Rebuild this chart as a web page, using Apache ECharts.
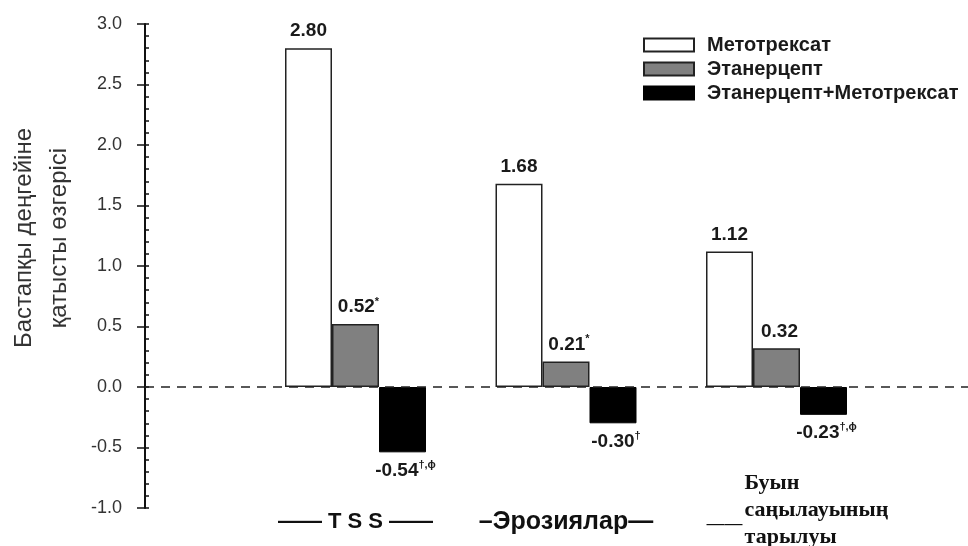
<!DOCTYPE html>
<html>
<head>
<meta charset="utf-8">
<script src="https://cdn.jsdelivr.net/npm/echarts@6/dist/echarts.min.js"></script>
<style>html,body{margin:0;padding:0;background:#fff;}#c{width:968px;height:546px;}</style>
</head>
<body>
<div id="c"></div>
<script>
const categories = ['', 'TSS', 'Эрозиялар', 'Буын саңылауының тарылуы', ''];
const methotrexate = [null, 2.80, 1.68, 1.12, null];
const etanercept = [null, 0.52, 0.21, 0.32, null];
const combination = [null, -0.54, -0.30, -0.23, null];
const etanerceptMarks = ['', '*', '*', '', ''];
const combinationMarks = ['', '†,ϕ', '†', '†,ϕ', ''];
const seriesNames = ['Метотрексат', 'Этанерцепт', 'Этанерцепт+Метотрексат'];

const SANS = "'Liberation Sans', Arial, sans-serif";
const SERIF = "'Liberation Serif', 'Times New Roman', serif";
const SERIF_FONT = "bold 22px 'Liberation Serif', 'Times New Roman', serif";

const measureCtx = document.createElement('canvas').getContext('2d');
measureCtx.font = SERIF_FONT;
function textW(s) { return measureCtx.measureText(s).width; }

const chart = echarts.init(document.getElementById('c'), null, {renderer: 'canvas'});

const valueRich = {
  v: {fontFamily: SANS, fontSize: 19, fontWeight: 'bold', color: '#1a1a1a', lineHeight: 22},
  s: {fontFamily: SANS, fontSize: 11, fontWeight: 'bold', color: '#1a1a1a', verticalAlign: 'top', lineHeight: 13}
};

function labelFmt(marks) {
  return function (p) {
    if (p.value == null) return '';
    const m = marks ? marks[p.dataIndex] : '';
    return '{v|' + p.value.toFixed(2) + '}' + (m ? '{s|' + m + '}' : '');
  };
}

// multi-line third category label, lines kept left-aligned by padding tokens
const words3 = categories[3].split(' ');
const wW = words3.map(textW);
const wMax = Math.max.apply(null, wW);
const DASH_W = 40, LEAD = 40;
const rich3 = {
  t: {fontFamily: SERIF, fontSize: 22, fontWeight: 'bold', color: '#111', lineHeight: 27},
  lead: {width: LEAD, fontSize: 10},
  lead2: {width: LEAD + DASH_W, fontSize: 10},
  d: {fontFamily: SANS, fontSize: 18, color: '#111', verticalAlign: 'top', lineHeight: 1, height: 1, width: DASH_W}
};
wW.forEach(function (w, k) { rich3['p' + k] = {width: Math.max(0.01, wMax - w), fontSize: 10}; });

const option = {
  backgroundColor: '#fff',
  animation: false,
  grid: {left: 145, right: -19, top: 24, bottom: 38, containLabel: false, outerBoundsMode: 'none'},
  legend: {
    orient: 'vertical', left: 643, top: 35, padding: 0,
    itemWidth: 50, itemHeight: 13, itemGap: 4,
    icon: 'rect',
    data: seriesNames,
    textStyle: {fontFamily: SANS, fontSize: 20, fontWeight: 'bold', color: '#1a1a1a', lineHeight: 20, padding: [0, 0, 0, 8]}
  },
  xAxis: {
    type: 'category',
    data: categories,
    boundaryGap: false,
    axisLine: {show: false},
    axisTick: {show: false},
    splitLine: {show: false},
    axisLabel: {
      interval: 0,
      verticalAlign: 'middle',
      margin: 2,
      formatter: function (v, i) {
        if (i === 1) return '{e| }\n{b|—— T S S ——}';
        if (i === 2) return '{e| }\n{c|–Эрозиялар—}';
        if (i === 3) {
          const w = v.split(' ');
          return '{lead2| }{t|' + w[0] + '}{p0| }\n' +
                 '{lead2| }{t|' + w[1] + '}{p1| }\n' +
                 '{lead| }{d|——}{t|' + w[2] + '}{p2| }';
        }
        return '';
      },
      rich: Object.assign({
        e: {height: 24, lineHeight: 24, fontSize: 10},
        b: {fontFamily: SANS, fontSize: 22, fontWeight: 'bold', color: '#111', lineHeight: 28},
        c: {fontFamily: SANS, fontSize: 25, fontWeight: 'bold', color: '#111', lineHeight: 28}
      }, rich3)
    }
  },
  yAxis: [
    {
      type: 'value', min: -1, max: 3, interval: 0.5, position: 'left',
      name: 'Бастапқы деңгейіне\nқатысты өзгерісі',
      nameLocation: 'middle', nameGap: 68,
      nameTextStyle: {fontFamily: SANS, fontSize: 24, color: '#333', lineHeight: 35, padding: [0, 0, 0, 56]},
      axisLine: {show: true, lineStyle: {color: '#111', width: 2}},
      axisTick: {show: true, length: 8, lineStyle: {color: '#111', width: 1.5}},
      splitLine: {show: false},
      axisLabel: {
        margin: 23, fontFamily: SANS, fontSize: 18, color: '#333',
        formatter: function (v) { return (Math.round(v * 10) / 10).toFixed(1); }
      }
    },
    {
      type: 'value', min: -1, max: 3, interval: 0.1, position: 'left',
      axisLine: {show: false},
      axisTick: {show: true, inside: true, length: 4, lineStyle: {color: '#111', width: 1.5}},
      axisLabel: {show: false},
      splitLine: {show: false}
    }
  ],
  series: [
    {
      name: seriesNames[0], type: 'bar', data: methotrexate, yAxisIndex: 0,
      barWidth: 47, barGap: '0%',
      itemStyle: {color: '#ffffff', borderColor: '#222', borderWidth: 1.5},
      label: {show: true, position: 'top', distance: 6, formatter: labelFmt(null), rich: valueRich},
      markLine: {
        silent: true, symbol: 'none', label: {show: false},
        lineStyle: {color: '#222', type: [9, 7], width: 1.5},
        data: [{yAxis: 0}]
      }
    },
    {
      name: seriesNames[1], type: 'bar', data: etanercept, yAxisIndex: 0,
      barWidth: 47, barGap: '0%',
      itemStyle: {color: '#808080', borderColor: '#222', borderWidth: 1.5},
      label: {show: true, position: 'top', distance: 6, offset: [3, 0], formatter: labelFmt(etanerceptMarks), rich: valueRich}
    },
    {
      name: seriesNames[2], type: 'bar', data: combination, yAxisIndex: 0,
      barWidth: 47, barGap: '0%',
      itemStyle: {color: '#000000', borderColor: '#000', borderWidth: 1},
      label: {show: true, position: 'bottom', distance: 7, offset: [3, 0], formatter: labelFmt(combinationMarks), rich: valueRich}
    }
  ]
};
chart.setOption(option);
</script>
</body>
</html>
